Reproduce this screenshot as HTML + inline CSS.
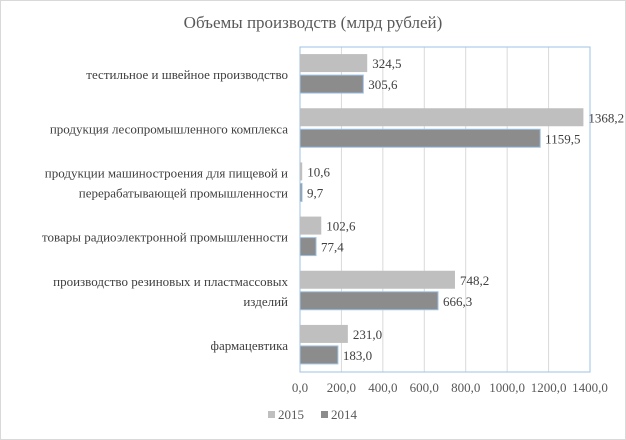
<!DOCTYPE html>
<html><head><meta charset="utf-8"><style>
body{margin:0;background:#fff}
#c{position:relative;width:626px;height:440px;overflow:hidden;font-family:"Liberation Serif",serif;color:#404040;border:1px solid #d9d9d9;box-sizing:border-box}
#s{position:absolute;left:-1px;top:-1px}
text{font-family:"Liberation Serif",serif}
</style></head><body>
<div id="c">
<svg id="s" width="626" height="440"></svg>
</div>
<script>
const categories=["тестильное и швейное производство","продукция лесопромышленного комплекса","продукции машиностроения для пищевой и|перерабатывающей промышленности","товары радиоэлектронной промышленности","производство резиновых и пластмассовых|изделий","фармацевтика"];
const values2015=[324.5,1368.2,10.6,102.6,748.2,231.0];
const values2014=[305.6,1159.5,9.7,77.4,666.3,183.0];
const tickValues=[0,200,400,600,800,1000,1200,1400];
const seriesNames=["2015","2014"];
const NS="http://www.w3.org/2000/svg";
const svgEl=document.getElementById('s');
const x0=300,x1=590,yTop=47,yBot=372,maxV=1400;
const xs=v=>x0+(v/maxV)*(x1-x0);
const band=(yBot-yTop)/categories.length;
function el(t,a){const e=document.createElementNS(NS,t);for(const k in a)e.setAttribute(k,a[k]);svgEl.appendChild(e);return e;}
const fmt=v=>v.toFixed(1).replace('.',',');
let t=el('text',{x:313,y:28,'text-anchor':'middle','font-size':17,fill:'#595959'});


t.textContent='Объемы производств (млрд рублей)';
tickValues.forEach(v=>{
 const g=el('line',{x1:xs(v),x2:xs(v),y1:yTop,y2:yBot,stroke:'#d9d9d9'});
 
 
 const l=el('text',{x:xs(v),y:392,'text-anchor':'middle','font-size':13,fill:'#595959'});
 
 
 l.textContent=fmt(v);
});
const fr=el('rect',{x:x0,y:yTop,width:x1-x0,height:yBot-yTop,fill:'none',stroke:'#9dc3e6'});


categories.forEach((c,i)=>{
 const cy=yTop+band*i+band/2;
 const lines=c.split('|');
 lines.forEach((ln,j)=>{
  const tx=el('text',{x:288,y:cy+5+(j-(lines.length-1)/2)*20,'text-anchor':'end','font-size':13,fill:'#404040'});
  
  
  tx.textContent=ln;
 });
 [[values2015[i],'#bfbfbf','none',cy-20],[values2014[i],'#8c8c8c','#9dc3e6',cy+1]].forEach(([v,f,s,y],k)=>{
  const r=el('rect',{x:x0,y:y,width:Math.max(1,xs(v)-x0),height:18,fill:f,stroke:s});
  
  
  const lb=el('text',{x:xs(v)+5,y:y+14,'font-size':13,fill:'#404040'});
  
  
  lb.textContent=fmt(v);
 });
});
[['#bfbfbf',268,'2015'],['#8c8c8c',321,'2014']].forEach(([f,x,n])=>{
 const r=el('rect',{x:x,y:411,width:7,height:7,fill:f});
 
 
 const tx=el('text',{x:x+10,y:419,'font-size':13,fill:'#595959'});
 
 
 tx.textContent=n;
});
</script>
</body></html>
